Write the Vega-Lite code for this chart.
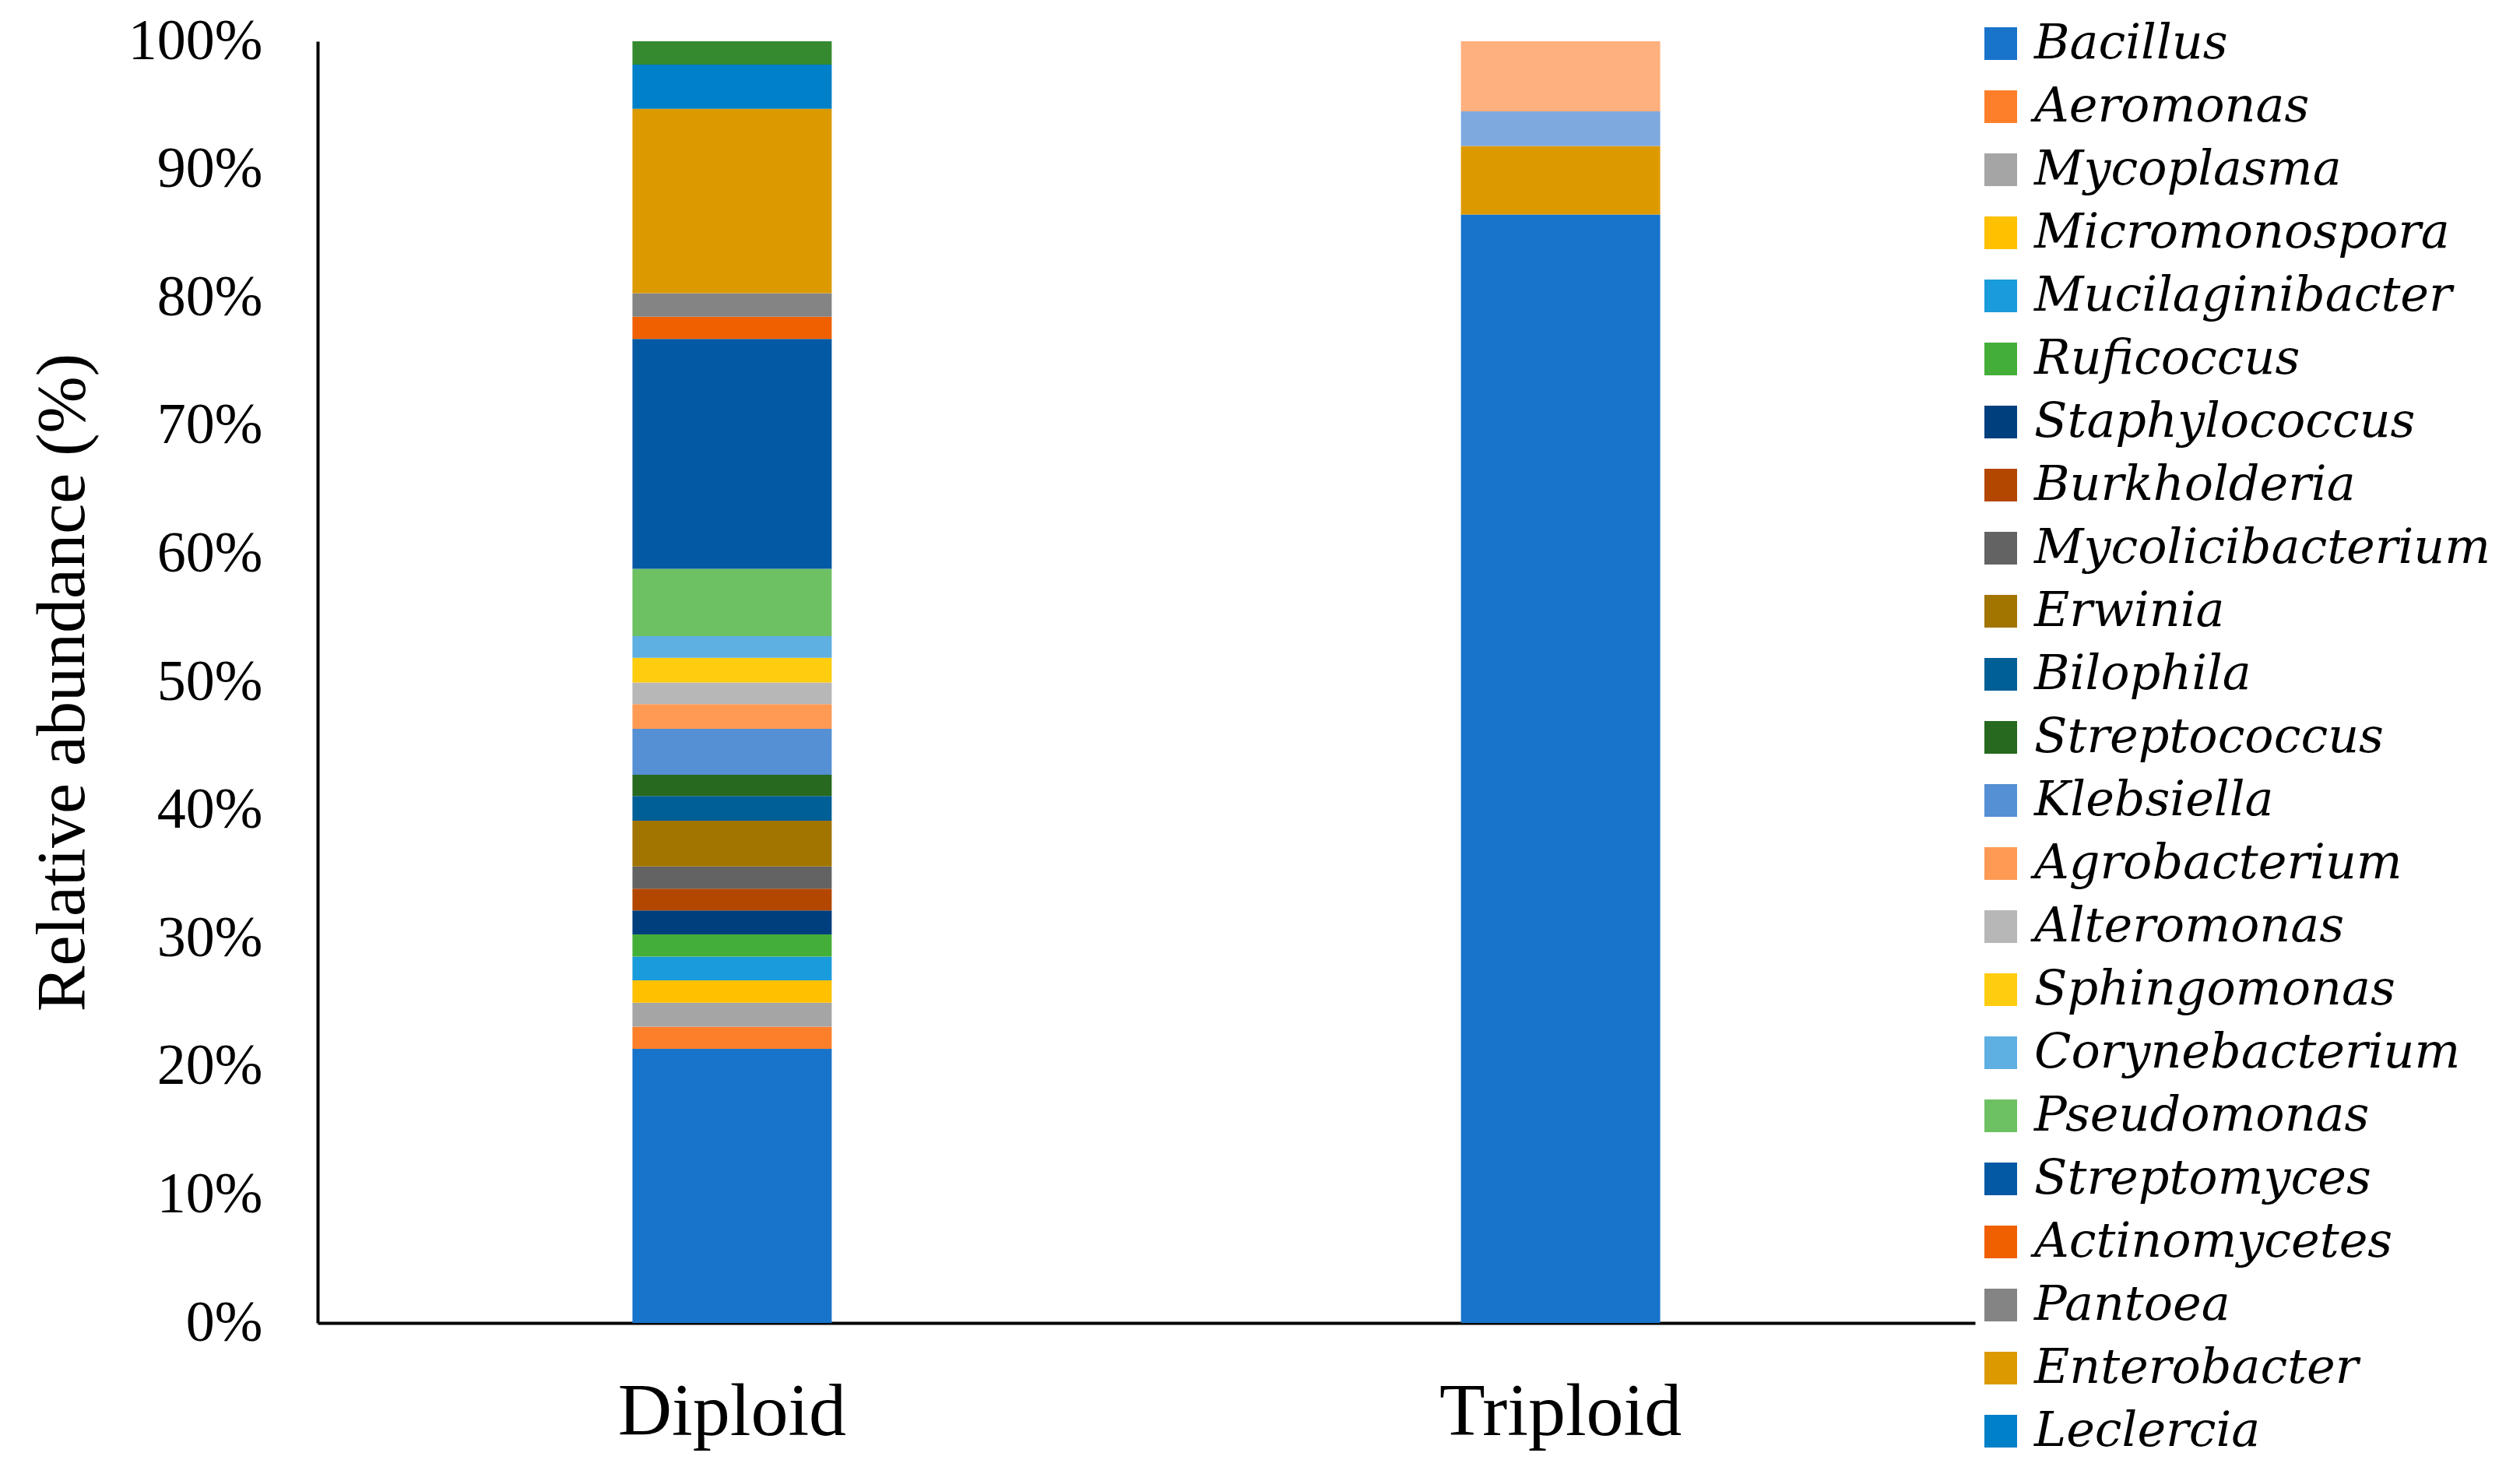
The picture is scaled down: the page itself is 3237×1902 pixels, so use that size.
{
  "$schema": "https://vega.github.io/schema/vega-lite/v6.json",
  "width": 2129,
  "height": 1646,
  "autosize": {"type": "none"},
  "padding": {"left": 408, "top": 53, "right": 700, "bottom": 203},
  "background": "white",
  "data": {
    "values": [
      {"group": "Diploid", "genus": "Bacillus", "k": 1, "abundance": 21.38},
      {"group": "Diploid", "genus": "Aeromonas", "k": 2, "abundance": 1.74},
      {"group": "Diploid", "genus": "Mycoplasma", "k": 3, "abundance": 1.86},
      {"group": "Diploid", "genus": "Micromonospora", "k": 4, "abundance": 1.75},
      {"group": "Diploid", "genus": "Mucilaginibacter", "k": 5, "abundance": 1.85},
      {"group": "Diploid", "genus": "Ruficoccus", "k": 6, "abundance": 1.74},
      {"group": "Diploid", "genus": "Staphylococcus", "k": 7, "abundance": 1.86},
      {"group": "Diploid", "genus": "Burkholderia", "k": 8, "abundance": 1.71},
      {"group": "Diploid", "genus": "Mycolicibacterium", "k": 9, "abundance": 1.72},
      {"group": "Diploid", "genus": "Erwinia", "k": 10, "abundance": 3.57},
      {"group": "Diploid", "genus": "Bilophila", "k": 11, "abundance": 1.93},
      {"group": "Diploid", "genus": "Streptococcus", "k": 12, "abundance": 1.66},
      {"group": "Diploid", "genus": "Klebsiella", "k": 13, "abundance": 3.59},
      {"group": "Diploid", "genus": "Agrobacterium", "k": 14, "abundance": 1.93},
      {"group": "Diploid", "genus": "Alteromonas", "k": 15, "abundance": 1.68},
      {"group": "Diploid", "genus": "Sphingomonas", "k": 16, "abundance": 1.93},
      {"group": "Diploid", "genus": "Corynebacterium", "k": 17, "abundance": 1.68},
      {"group": "Diploid", "genus": "Pseudomonas", "k": 18, "abundance": 5.26},
      {"group": "Diploid", "genus": "Streptomyces", "k": 19, "abundance": 17.93},
      {"group": "Diploid", "genus": "Actinomycetes", "k": 20, "abundance": 1.74},
      {"group": "Diploid", "genus": "Pantoea", "k": 21, "abundance": 1.84},
      {"group": "Diploid", "genus": "Enterobacter", "k": 22, "abundance": 14.38},
      {"group": "Diploid", "genus": "Leclercia", "k": 23, "abundance": 3.45},
      {"group": "Diploid", "genus": "Other 1", "k": 24, "abundance": 1.82},
      {"group": "Triploid", "genus": "Bacillus", "k": 1, "abundance": 86.48},
      {"group": "Triploid", "genus": "Enterobacter", "k": 22, "abundance": 5.35},
      {"group": "Triploid", "genus": "Other 2", "k": 25, "abundance": 2.70},
      {"group": "Triploid", "genus": "Other 3", "k": 26, "abundance": 5.47}
    ]
  },
  "mark": {"type": "bar", "strokeWidth": 0},
  "encoding": {
    "x": {
      "field": "group",
      "type": "nominal",
      "sort": ["Diploid", "Triploid"],
      "scale": {"paddingInner": 0.7595, "paddingOuter": 0.38},
      "axis": {
        "title": null,
        "labelAngle": 0,
        "ticks": false,
        "tickSize": 0,
        "grid": false,
        "domainColor": "black",
        "domainWidth": 4,
        "labelFont": "Liberation Serif, Times New Roman, serif",
        "labelFontSize": 96,
        "labelColor": "black",
        "labelPadding": 143,
        "labelBaseline": "alphabetic",
        "labelLimit": 1000
      }
    },
    "y": {
      "field": "abundance",
      "type": "quantitative",
      "stack": "zero",
      "scale": {"domain": [0, 100], "nice": false},
      "axis": {
        "title": "Relative abundance (%)",
        "values": [0, 10, 20, 30, 40, 50, 60, 70, 80, 90, 100],
        "labelExpr": "datum.value + '%'",
        "grid": false,
        "ticks": false,
        "tickSize": 0,
        "domainColor": "black",
        "domainWidth": 4,
        "labelFont": "Liberation Serif, Times New Roman, serif",
        "labelFontSize": 74,
        "labelColor": "black",
        "labelPadding": 71,
        "labelAlign": "right",
        "labelBaseline": "middle",
        "labelLimit": 1000,
        "titleFont": "Liberation Serif, Times New Roman, serif",
        "titleFontSize": 88,
        "titleFontWeight": "normal",
        "titleColor": "black",
        "titleAngle": 270,
        "titleAlign": "center",
        "titleBaseline": "alphabetic",
        "titleLimit": 3000,
        "titleX": -301,
        "titleY": 823
      }
    },
    "color": {
      "field": "genus",
      "type": "nominal",
      "scale": {
        "domain": ["Bacillus", "Aeromonas", "Mycoplasma", "Micromonospora", "Mucilaginibacter", "Ruficoccus", "Staphylococcus", "Burkholderia", "Mycolicibacterium", "Erwinia", "Bilophila", "Streptococcus", "Klebsiella", "Agrobacterium", "Alteromonas", "Sphingomonas", "Corynebacterium", "Pseudomonas", "Streptomyces", "Actinomycetes", "Pantoea", "Enterobacter", "Leclercia", "Other 1", "Other 2", "Other 3"],
        "range": ["#1874CB", "#FE7F2A", "#A5A5A5", "#FFC000", "#1A9BDB", "#44AF38", "#003F7D", "#B44700", "#636363", "#A27400", "#005F97", "#27691F", "#558FD4", "#FF9A55", "#B7B7B7", "#FFCD0F", "#5EAFE2", "#6EC163", "#0459A5", "#F05F00", "#848484", "#DC9A00", "#0080C8", "#358A2F", "#7EA9DF", "#FFB07F"]
      },
      "legend": {
        "title": null,
        "orient": "none",
        "legendX": 2131,
        "legendY": -28,
        "values": ["Bacillus", "Aeromonas", "Mycoplasma", "Micromonospora", "Mucilaginibacter", "Ruficoccus", "Staphylococcus", "Burkholderia", "Mycolicibacterium", "Erwinia", "Bilophila", "Streptococcus", "Klebsiella", "Agrobacterium", "Alteromonas", "Sphingomonas", "Corynebacterium", "Pseudomonas", "Streptomyces", "Actinomycetes", "Pantoea", "Enterobacter", "Leclercia"],
        "symbolType": "square",
        "symbolSize": 1764,
        "symbolStrokeWidth": 0,
        "symbolOpacity": 1,
        "labelFont": "DejaVu Serif",
        "labelFontStyle": "italic",
        "labelFontSize": 62,
        "labelColor": "black",
        "labelOffset": 12,
        "labelLimit": 1000,
        "rowPadding": 19,
        "padding": 0
      }
    },
    "order": {"field": "k", "type": "quantitative", "sort": "ascending"}
  },
  "config": {"view": {"stroke": null}}
}
